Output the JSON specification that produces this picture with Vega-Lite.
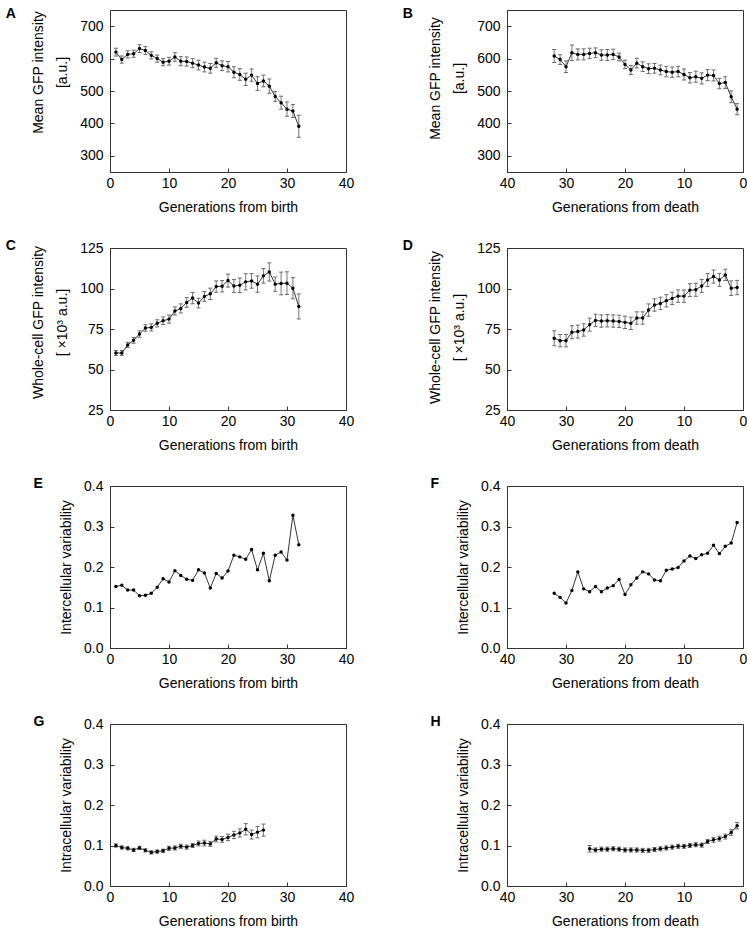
{
"$schema": "https://vega.github.io/schema/vega-lite/v6.json",
"padding": {"left": 5, "top": 6, "right": 0, "bottom": 0},
"config": {
 "view": {"stroke": "#333", "strokeWidth": 1},
 "font": "Liberation Sans",
 "axis": {"grid": false, "tickSize": -4, "tickColor": "#333", "domainColor": "#333", "labelFont": "Liberation Sans", "titleFont": "Liberation Sans", "labelFontSize": 14, "titleFontSize": 14, "labelColor": "#000", "titleColor": "#000", "titleFontWeight": "normal", "labelOverlap": false, "labelFlush": false},
 "axisY": {"titleLineHeight": 24, "titlePadding": 10, "labelPadding": 11},
 "axisX": {"titlePadding": 10, "labelPadding": 8.5},
 "title": {"font": "Liberation Sans", "fontSize": 14, "fontWeight": "bold", "color": "#000", "anchor": "start", "frame": "bounds", "dx": -26}
},
"datasets": {
 "A": [{"g":1,"v":620,"e":12},{"g":2,"v":597,"e":11},{"g":3,"v":613,"e":11},{"g":4,"v":615,"e":11},{"g":5,"v":631,"e":12},{"g":6,"v":625,"e":12},{"g":7,"v":610,"e":11},{"g":8,"v":600,"e":11},{"g":9,"v":589,"e":11},{"g":10,"v":592,"e":12},{"g":11,"v":605,"e":13},{"g":12,"v":592,"e":14},{"g":13,"v":591,"e":14},{"g":14,"v":586,"e":14},{"g":15,"v":580,"e":15},{"g":16,"v":574,"e":15},{"g":17,"v":570,"e":15},{"g":18,"v":587,"e":14},{"g":19,"v":578,"e":15},{"g":20,"v":575,"e":16},{"g":21,"v":558,"e":17},{"g":22,"v":551,"e":18},{"g":23,"v":536,"e":19},{"g":24,"v":549,"e":19},{"g":25,"v":523,"e":21},{"g":26,"v":531,"e":18},{"g":27,"v":515,"e":22},{"g":28,"v":483,"e":15},{"g":29,"v":464,"e":20},{"g":30,"v":444,"e":22},{"g":31,"v":438,"e":20},{"g":32,"v":391,"e":34}],
 "B": [{"g":32,"v":608,"e":20},{"g":31,"v":597,"e":15},{"g":30,"v":575,"e":18},{"g":29,"v":618,"e":24},{"g":28,"v":613,"e":17},{"g":27,"v":613,"e":17},{"g":26,"v":616,"e":16},{"g":25,"v":618,"e":15},{"g":24,"v":611,"e":16},{"g":23,"v":611,"e":17},{"g":22,"v":613,"e":16},{"g":21,"v":605,"e":12},{"g":20,"v":582,"e":13},{"g":19,"v":565,"e":14},{"g":18,"v":586,"e":15},{"g":17,"v":575,"e":15},{"g":16,"v":569,"e":15},{"g":15,"v":570,"e":15},{"g":14,"v":565,"e":15},{"g":13,"v":560,"e":16},{"g":12,"v":558,"e":16},{"g":11,"v":560,"e":16},{"g":10,"v":551,"e":17},{"g":9,"v":541,"e":16},{"g":8,"v":544,"e":17},{"g":7,"v":539,"e":17},{"g":6,"v":549,"e":17},{"g":5,"v":548,"e":17},{"g":4,"v":523,"e":16},{"g":3,"v":526,"e":18},{"g":2,"v":482,"e":18},{"g":1,"v":444,"e":17}],
 "C": [{"g":1,"v":60.2,"e":1.5},{"g":2,"v":60.2,"e":1.5},{"g":3,"v":65.2,"e":1.6},{"g":4,"v":68,"e":1.8},{"g":5,"v":71.9,"e":2},{"g":6,"v":75.6,"e":2},{"g":7,"v":76,"e":2.2},{"g":8,"v":78.5,"e":2.2},{"g":9,"v":80.1,"e":2.3},{"g":10,"v":81.1,"e":2.5},{"g":11,"v":86.1,"e":2.5},{"g":12,"v":87.7,"e":2.8},{"g":13,"v":91.4,"e":3},{"g":14,"v":94.1,"e":3.5},{"g":15,"v":91,"e":3},{"g":16,"v":95.1,"e":3},{"g":17,"v":96.7,"e":3.5},{"g":18,"v":101.2,"e":3.5},{"g":19,"v":101.4,"e":3.5},{"g":20,"v":104.9,"e":4},{"g":21,"v":101.6,"e":4},{"g":22,"v":102,"e":4.5},{"g":23,"v":104.1,"e":5},{"g":24,"v":104.7,"e":4.5},{"g":25,"v":102.7,"e":5},{"g":26,"v":107.8,"e":4.5},{"g":27,"v":110.2,"e":5.6},{"g":28,"v":102.7,"e":4.4},{"g":29,"v":103.1,"e":7},{"g":30,"v":103.3,"e":7},{"g":31,"v":100.2,"e":6.5},{"g":32,"v":88.9,"e":7.7}],
 "D": [{"g":32,"v":69.3,"e":4.6},{"g":31,"v":67.8,"e":3.8},{"g":30,"v":67.8,"e":3.8},{"g":29,"v":73,"e":4},{"g":28,"v":73.4,"e":4},{"g":27,"v":74.4,"e":3.8},{"g":26,"v":77.7,"e":4},{"g":25,"v":80.3,"e":3.8},{"g":24,"v":79.9,"e":3.8},{"g":23,"v":80.1,"e":3.8},{"g":22,"v":79.9,"e":3.8},{"g":21,"v":79.7,"e":3.8},{"g":20,"v":79.1,"e":3.8},{"g":19,"v":78.5,"e":3.8},{"g":18,"v":81.8,"e":3.8},{"g":17,"v":81.8,"e":3.8},{"g":16,"v":86.7,"e":3.8},{"g":15,"v":89.8,"e":3.8},{"g":14,"v":90.8,"e":3.8},{"g":13,"v":92.4,"e":3.8},{"g":12,"v":93.9,"e":3.8},{"g":11,"v":95.3,"e":3.8},{"g":10,"v":95.3,"e":3.8},{"g":9,"v":99,"e":4},{"g":8,"v":99.2,"e":4},{"g":7,"v":101.6,"e":4},{"g":6,"v":105.3,"e":4},{"g":5,"v":107.4,"e":4},{"g":4,"v":105.3,"e":4},{"g":3,"v":108.4,"e":3.5},{"g":2,"v":100.2,"e":4.5},{"g":1,"v":100.6,"e":4.4}],
 "E": [{"g":1,"v":0.152},{"g":2,"v":0.155},{"g":3,"v":0.143},{"g":4,"v":0.143},{"g":5,"v":0.129},{"g":6,"v":0.130},{"g":7,"v":0.135},{"g":8,"v":0.150},{"g":9,"v":0.171},{"g":10,"v":0.163},{"g":11,"v":0.191},{"g":12,"v":0.179},{"g":13,"v":0.170},{"g":14,"v":0.167},{"g":15,"v":0.193},{"g":16,"v":0.185},{"g":17,"v":0.148},{"g":18,"v":0.184},{"g":19,"v":0.173},{"g":20,"v":0.190},{"g":21,"v":0.229},{"g":22,"v":0.225},{"g":23,"v":0.219},{"g":24,"v":0.243},{"g":25,"v":0.193},{"g":26,"v":0.234},{"g":27,"v":0.166},{"g":28,"v":0.229},{"g":29,"v":0.237},{"g":30,"v":0.217},{"g":31,"v":0.328},{"g":32,"v":0.255}],
 "F": [{"g":32,"v":0.135},{"g":31,"v":0.125},{"g":30,"v":0.111},{"g":29,"v":0.142},{"g":28,"v":0.188},{"g":27,"v":0.146},{"g":26,"v":0.139},{"g":25,"v":0.152},{"g":24,"v":0.139},{"g":23,"v":0.148},{"g":22,"v":0.154},{"g":21,"v":0.169},{"g":20,"v":0.132},{"g":19,"v":0.156},{"g":18,"v":0.173},{"g":17,"v":0.188},{"g":16,"v":0.183},{"g":15,"v":0.168},{"g":14,"v":0.166},{"g":13,"v":0.192},{"g":12,"v":0.195},{"g":11,"v":0.199},{"g":10,"v":0.215},{"g":9,"v":0.227},{"g":8,"v":0.221},{"g":7,"v":0.230},{"g":6,"v":0.234},{"g":5,"v":0.254},{"g":4,"v":0.233},{"g":3,"v":0.251},{"g":2,"v":0.259},{"g":1,"v":0.310}],
 "G": [{"g":1,"v":0.100,"e":0.004},{"g":2,"v":0.095,"e":0.004},{"g":3,"v":0.093,"e":0.004},{"g":4,"v":0.089,"e":0.004},{"g":5,"v":0.094,"e":0.004},{"g":6,"v":0.088,"e":0.004},{"g":7,"v":0.083,"e":0.004},{"g":8,"v":0.085,"e":0.004},{"g":9,"v":0.087,"e":0.004},{"g":10,"v":0.093,"e":0.005},{"g":11,"v":0.094,"e":0.005},{"g":12,"v":0.098,"e":0.005},{"g":13,"v":0.096,"e":0.005},{"g":14,"v":0.100,"e":0.005},{"g":15,"v":0.105,"e":0.006},{"g":16,"v":0.106,"e":0.007},{"g":17,"v":0.104,"e":0.006},{"g":18,"v":0.116,"e":0.007},{"g":19,"v":0.115,"e":0.007},{"g":20,"v":0.120,"e":0.008},{"g":21,"v":0.126,"e":0.009},{"g":22,"v":0.131,"e":0.010},{"g":23,"v":0.140,"e":0.014},{"g":24,"v":0.127,"e":0.011},{"g":25,"v":0.133,"e":0.014},{"g":26,"v":0.138,"e":0.015}],
 "H": [{"g":26,"v":0.092,"e":0.008},{"g":25,"v":0.089,"e":0.005},{"g":24,"v":0.091,"e":0.005},{"g":23,"v":0.091,"e":0.005},{"g":22,"v":0.092,"e":0.005},{"g":21,"v":0.091,"e":0.005},{"g":20,"v":0.089,"e":0.005},{"g":19,"v":0.089,"e":0.005},{"g":18,"v":0.089,"e":0.005},{"g":17,"v":0.088,"e":0.005},{"g":16,"v":0.088,"e":0.005},{"g":15,"v":0.090,"e":0.005},{"g":14,"v":0.092,"e":0.005},{"g":13,"v":0.094,"e":0.005},{"g":12,"v":0.096,"e":0.005},{"g":11,"v":0.098,"e":0.005},{"g":10,"v":0.098,"e":0.005},{"g":9,"v":0.100,"e":0.005},{"g":8,"v":0.102,"e":0.005},{"g":7,"v":0.101,"e":0.005},{"g":6,"v":0.110,"e":0.005},{"g":5,"v":0.114,"e":0.006},{"g":4,"v":0.117,"e":0.006},{"g":3,"v":0.122,"e":0.006},{"g":2,"v":0.132,"e":0.007},{"g":1,"v":0.149,"e":0.008}]
},
"columns": 2,
"spacing": {"row": 23, "column": 47},
"concat": [
 {"width": 236, "height": 162, "title": {"text": "A", "offset": -11}, "data": {"name": "A"},
  "encoding": {"x": {"field": "g", "type": "quantitative", "scale": {"domain": [0, 40]}, "axis": {"values": [0,10,20,30,40], "title": "Generations from birth"}},
   "y": {"field": "v", "type": "quantitative", "scale": {"domain": [250, 750]}, "axis": {"values": [300,400,500,600,700], "titleY": 62, "title": ["Mean GFP intensity", "[a.u.]"]}}},
  "layer": [
   {"mark": {"type": "errorbar", "rule": {"color": "#777", "strokeWidth": 1}, "ticks": {"color": "#222", "size": 4}}, "encoding": {"yError": {"field": "e"}}},
   {"mark": {"type": "line", "color": "#000", "strokeWidth": 0.8}},
   {"mark": {"type": "point", "filled": true, "color": "#000", "size": 12, "opacity": 1}}
  ]},
 {"width": 236, "height": 162, "title": {"text": "B", "offset": -11}, "data": {"name": "B"},
  "encoding": {"x": {"field": "g", "type": "quantitative", "scale": {"domain": [0, 40], "reverse": true}, "axis": {"values": [0,10,20,30,40], "title": "Generations from death"}},
   "y": {"field": "v", "type": "quantitative", "scale": {"domain": [250, 750]}, "axis": {"values": [300,400,500,600,700], "titleY": 68, "title": ["Mean GFP intensity", "[a.u.]"]}}},
  "layer": [
   {"mark": {"type": "errorbar", "rule": {"color": "#777", "strokeWidth": 1}, "ticks": {"color": "#222", "size": 4}}, "encoding": {"yError": {"field": "e"}}},
   {"mark": {"type": "line", "color": "#000", "strokeWidth": 0.8}},
   {"mark": {"type": "point", "filled": true, "color": "#000", "size": 12, "opacity": 1}}
  ]},
 {"width": 236, "height": 162, "title": {"text": "C", "offset": -12}, "data": {"name": "C"},
  "encoding": {"x": {"field": "g", "type": "quantitative", "scale": {"domain": [0, 40]}, "axis": {"values": [0,10,20,30,40], "title": "Generations from birth"}},
   "y": {"field": "v", "type": "quantitative", "scale": {"domain": [25, 125]}, "axis": {"values": [25,50,75,100,125], "titleY": 74, "title": ["Whole-cell GFP intensity", "[ ×10³ a.u.]"]}}},
  "layer": [
   {"mark": {"type": "errorbar", "rule": {"color": "#777", "strokeWidth": 1}, "ticks": {"color": "#222", "size": 4}}, "encoding": {"yError": {"field": "e"}}},
   {"mark": {"type": "line", "color": "#000", "strokeWidth": 0.8}},
   {"mark": {"type": "point", "filled": true, "color": "#000", "size": 12, "opacity": 1}}
  ]},
 {"width": 236, "height": 162, "title": {"text": "D", "offset": -12}, "data": {"name": "D"},
  "encoding": {"x": {"field": "g", "type": "quantitative", "scale": {"domain": [0, 40], "reverse": true}, "axis": {"values": [0,10,20,30,40], "title": "Generations from death"}},
   "y": {"field": "v", "type": "quantitative", "scale": {"domain": [25, 125]}, "axis": {"values": [25,50,75,100,125], "titleY": 79, "title": ["Whole-cell GFP intensity", "[ ×10³ a.u.]"]}}},
  "layer": [
   {"mark": {"type": "errorbar", "rule": {"color": "#777", "strokeWidth": 1}, "ticks": {"color": "#222", "size": 4}}, "encoding": {"yError": {"field": "e"}}},
   {"mark": {"type": "line", "color": "#000", "strokeWidth": 0.8}},
   {"mark": {"type": "point", "filled": true, "color": "#000", "size": 12, "opacity": 1}}
  ]},
 {"width": 236, "height": 162, "title": {"text": "E", "offset": -12}, "data": {"name": "E"},
  "encoding": {"x": {"field": "g", "type": "quantitative", "scale": {"domain": [0, 40]}, "axis": {"values": [0,10,20,30,40], "title": "Generations from birth"}},
   "y": {"field": "v", "type": "quantitative", "scale": {"domain": [0, 0.4]}, "axis": {"values": [0,0.1,0.2,0.3,0.4], "format": ".1f", "title": "Intercellular variability"}}},
  "layer": [
   {"mark": {"type": "line", "color": "#000", "strokeWidth": 0.8}},
   {"mark": {"type": "point", "filled": true, "color": "#000", "size": 12, "opacity": 1}}
  ]},
 {"width": 236, "height": 162, "title": {"text": "F", "offset": -12}, "data": {"name": "F"},
  "encoding": {"x": {"field": "g", "type": "quantitative", "scale": {"domain": [0, 40], "reverse": true}, "axis": {"values": [0,10,20,30,40], "title": "Generations from death"}},
   "y": {"field": "v", "type": "quantitative", "scale": {"domain": [0, 0.4]}, "axis": {"values": [0,0.1,0.2,0.3,0.4], "format": ".1f", "title": "Intercellular variability"}}},
  "layer": [
   {"mark": {"type": "line", "color": "#000", "strokeWidth": 0.8}},
   {"mark": {"type": "point", "filled": true, "color": "#000", "size": 12, "opacity": 1}}
  ]},
 {"width": 236, "height": 162, "title": {"text": "G", "offset": -12}, "data": {"name": "G"},
  "encoding": {"x": {"field": "g", "type": "quantitative", "scale": {"domain": [0, 40]}, "axis": {"values": [0,10,20,30,40], "title": "Generations from birth"}},
   "y": {"field": "v", "type": "quantitative", "scale": {"domain": [0, 0.4]}, "axis": {"values": [0,0.1,0.2,0.3,0.4], "format": ".1f", "title": "Intracellular variability"}}},
  "layer": [
   {"mark": {"type": "errorbar", "rule": {"color": "#777", "strokeWidth": 1}, "ticks": {"color": "#222", "size": 4}}, "encoding": {"yError": {"field": "e"}}},
   {"mark": {"type": "line", "color": "#000", "strokeWidth": 0.8}},
   {"mark": {"type": "point", "filled": true, "color": "#000", "size": 12, "opacity": 1}}
  ]},
 {"width": 236, "height": 162, "title": {"text": "H", "offset": -12}, "data": {"name": "H"},
  "encoding": {"x": {"field": "g", "type": "quantitative", "scale": {"domain": [0, 40], "reverse": true}, "axis": {"values": [0,10,20,30,40], "title": "Generations from death"}},
   "y": {"field": "v", "type": "quantitative", "scale": {"domain": [0, 0.4]}, "axis": {"values": [0,0.1,0.2,0.3,0.4], "format": ".1f", "title": "Intracellular variability"}}},
  "layer": [
   {"mark": {"type": "errorbar", "rule": {"color": "#777", "strokeWidth": 1}, "ticks": {"color": "#222", "size": 4}}, "encoding": {"yError": {"field": "e"}}},
   {"mark": {"type": "line", "color": "#000", "strokeWidth": 0.8}},
   {"mark": {"type": "point", "filled": true, "color": "#000", "size": 12, "opacity": 1}}
  ]}
]
}
